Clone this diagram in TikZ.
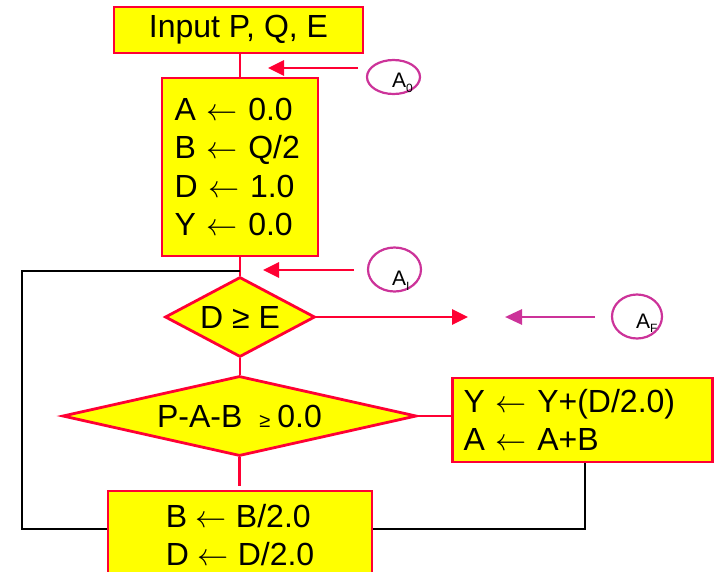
\documentclass[tikz,border=0pt]{standalone}
\usepackage{graphicx}
\usepackage{fontspec}
\setmainfont{Liberation Sans}
\usetikzlibrary{shapes.geometric,arrows.meta}
\definecolor{fred}{RGB}{255,0,51}
\definecolor{fmag}{RGB}{204,51,153}
\definecolor{fyel}{RGB}{255,255,0}
\newcommand\fcbig{\fontsize{32}{38.4}\selectfont}
\newcommand\fcsub{\fontsize{12}{12}\selectfont}
\newcommand\la{\scalebox{1.25}{$\leftarrow$}}
\begin{document}
\begin{tikzpicture}[x=1pt,y=-1pt,
  box/.style={draw=fred,fill=fyel,line width=2.8pt,inner sep=0pt,font=\fcbig},
  dia/.style={diamond,draw=fred,fill=fyel,line width=2.8pt,inner sep=0pt,font=\fcbig},
  rline/.style={draw=fred,line width=2.8pt},
  bline/.style={draw=black,line width=2.8pt},
  rarrow/.style={draw=fred,line width=2.8pt,-{Triangle[length=16pt,width=15pt]}},
  marrow/.style={draw=fmag,line width=2.8pt,-{Triangle[length=17pt,width=15pt]}},
  circ/.style={ellipse,draw=fmag,line width=2.2pt,inner sep=0pt},
  lab/.style={inner sep=0pt,font=\fontsize{21}{21}\selectfont,anchor=base west},
]
\useasboundingbox (0,0) rectangle (715,571);
\clip (0,0) rectangle (715,571);

% boxes
\node[box,minimum width=249pt,minimum height=46pt] (inp) at (238.5,30) {Input P, Q, E};
\node[box,minimum width=156pt,minimum height=178pt,text width=131pt,align=left] (init) at (240,167)
  {A \la{} 0.0\\B \la{} Q/2\\D \la{} 1.0\\Y \la{} 0.0};
\node[dia,aspect=1.875,minimum width=150pt,minimum height=80pt] (d1) at (240,317) {D ≥ E};
\node[dia,aspect=4.425,minimum width=354pt,minimum height=80pt] (d2) at (239.5,416)
  {P-A-B\hspace{17pt}{\fontsize{20}{20}\selectfont ≥}\hspace{7pt}0.0};
\node[box,minimum width=260pt,minimum height=84pt,text width=238pt,align=left] (yb) at (582.5,420)
  {Y \la{} Y+(D/2.0)\\A \la{} A+B};
\node[box,minimum width=264pt,minimum height=88pt,align=left] (bot) at (240,535)
  {B \la{} B/2.0\\D \la{} D/2.0};

% circles
\node[circ,minimum width=53pt,minimum height=34pt] (c0) at (393.5,77) {};
\node[lab] (l0) at (392,87) {A\raisebox{-5pt}{\fcsub 0}};
\node[circ,minimum width=53pt,minimum height=44pt] (c1) at (394.5,269.5) {};
\node[lab] (l1) at (392,285) {A\raisebox{-5pt}{\fcsub I}};
\node[circ,minimum width=50pt,minimum height=44pt] (cf) at (637,316.5) {};
\node[lab] (lf) at (636,328) {A\raisebox{-4pt}{\fcsub F}};

% coordinates
\coordinate (j1) at (240,271);
\coordinate (jl) at (22,271);
\coordinate (jb) at (22,529);
\coordinate (jr) at (585,529);
\coordinate (a0s) at (358,68);
\coordinate (a0e) at (268,68);
\coordinate (a1s) at (354,270);
\coordinate (a1e) at (263,270);
\coordinate (d1e) at (468,317);
\coordinate (afs) at (595,317);
\coordinate (afe) at (505,317);

% red connectors
\draw[rline] (init.north |- inp.south) -- (init.north);
\draw[rline] (init.south) -- (d1.north);
\draw[rline] (d1.south) -- (d1.south |- d2.north);
\draw[rline] (d2.east) -- (d2.east -| yb.west);
\draw[rline,shorten >=4pt] (d2.south) -- (d2.south |- bot.north);

% black loop lines
\draw[bline] (j1) -- (jl) -- (jb) -- (jb -| bot.west);
\draw[bline] (jr -| bot.east) -- (jr) -- (jr |- yb.south);

% arrows
\draw[rarrow] (a0s) -- (a0e);
\draw[rarrow] (a1s) -- (a1e);
\draw[rarrow] (d1.east) -- (d1e);
\draw[marrow] (afs) -- (afe);
\end{tikzpicture}
\end{document}
